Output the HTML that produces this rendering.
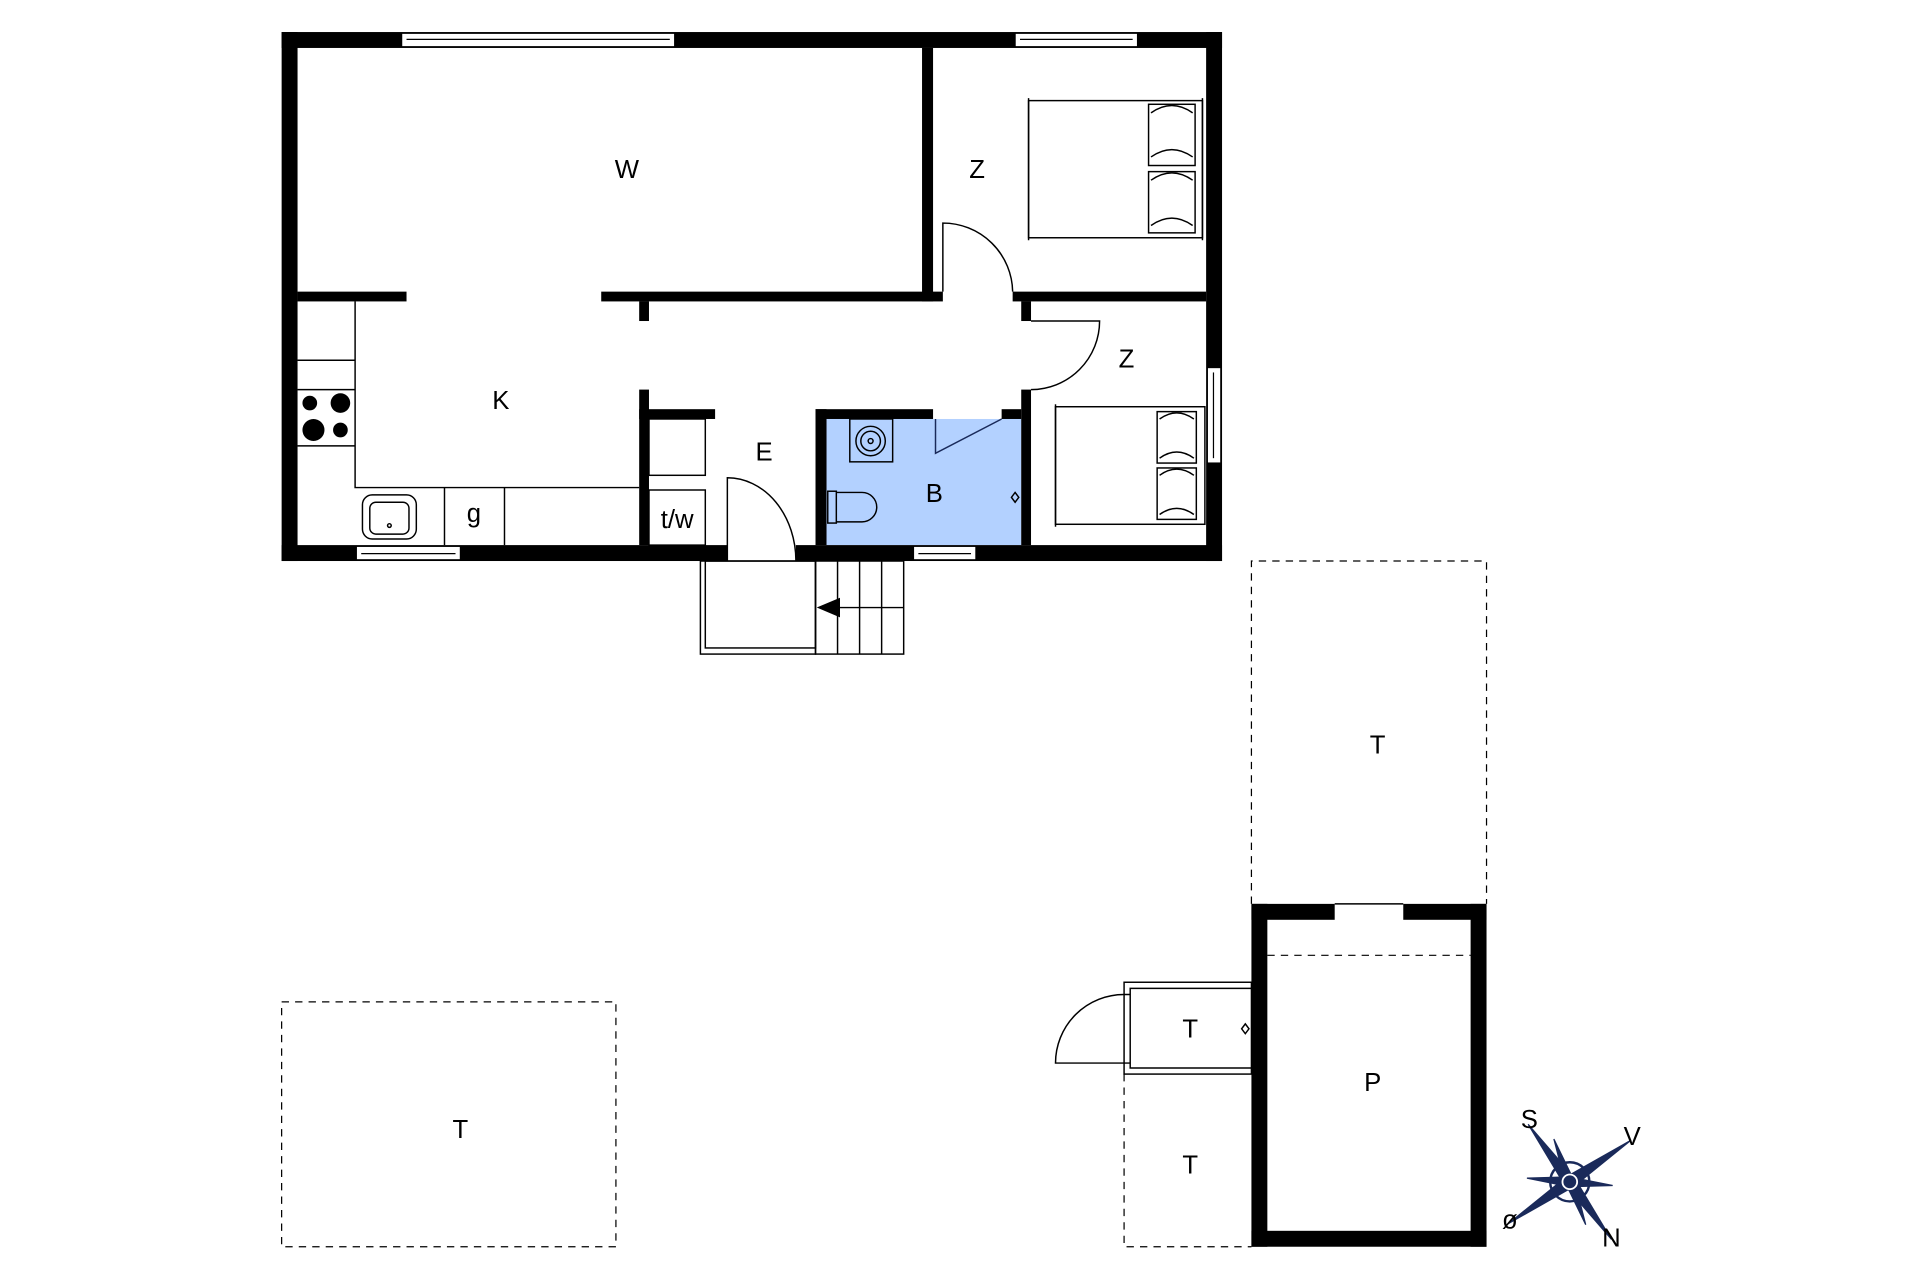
<!DOCTYPE html>
<html><head><meta charset="utf-8"><style>html,body{margin:0;padding:0;background:#fff}svg{display:block}text{font-family:"Liberation Sans",sans-serif;font-size:21px;fill:#000;text-anchor:middle}</style></head><body>
<svg width="1920" height="1280" viewBox="0 0 1568 1045" xmlns="http://www.w3.org/2000/svg">
<rect width="1568" height="1045" fill="#fff"/>
<!-- bathroom fill -->
<rect x="675" y="342" width="159" height="103" fill="#b3d1ff"/>
<g fill="#000">
<!-- outer walls -->
<rect x="230" y="26" width="768" height="13"/>
<rect x="230" y="26" width="13" height="432"/>
<rect x="985" y="26" width="13" height="432"/>
<rect x="230" y="445" width="364" height="13"/>
<rect x="650" y="445" width="348" height="13"/>
<!-- interior -->
<rect x="243" y="238" width="89" height="8"/>
<rect x="491" y="238" width="279" height="8"/>
<rect x="753" y="39" width="9" height="207"/>
<rect x="827" y="238" width="158" height="8"/>
<rect x="522" y="246" width="8" height="16"/>
<rect x="834" y="246" width="8" height="16"/>
<rect x="834" y="318" width="8" height="127"/>
<rect x="522" y="318" width="8" height="127"/>
<rect x="522" y="334" width="62" height="8"/>
<rect x="666" y="334" width="9" height="111"/>
<rect x="666" y="334" width="96" height="8"/>
<rect x="818" y="334" width="16" height="8"/>
<!-- P building -->
<rect x="1022" y="738" width="13" height="280"/>
<rect x="1201" y="738" width="13" height="280"/>
<rect x="1022" y="1005" width="192" height="13"/>
<rect x="1022" y="738" width="68" height="13"/>
<rect x="1146" y="738" width="68" height="13"/>
</g>
<!-- windows -->
<g fill="#fff" stroke="#000" stroke-width="1">
<rect x="328" y="27" width="223" height="11"/><line x1="332" y1="32" x2="547" y2="32"/>
<rect x="829" y="27" width="100" height="11"/><line x1="833" y1="32" x2="925" y2="32"/>
<rect x="291" y="446" width="85" height="11"/><line x1="295" y1="452" x2="372" y2="452"/>
<rect x="746" y="446" width="51" height="11"/><line x1="750" y1="452" x2="793" y2="452"/>
<rect x="986" y="300" width="11" height="78"/><line x1="991" y1="304" x2="991" y2="374"/>
</g>
<g fill="none" stroke="#000" stroke-width="1.2">
<!-- doors -->
<path d="M770 238 V182 A57 57 0 0 1 827 238"/>
<path d="M842 262 H898 A56 56 0 0 1 842 318"/>
<path d="M594 458 V390 A56 68 0 0 1 650 458"/>
<path d="M764 342 V370 L818 342" stroke="#1a2a5a"/>
<!-- kitchen -->
<path d="M290 246 V398 H522"/>
<line x1="243" y1="294" x2="290" y2="294"/>
<line x1="243" y1="318" x2="290" y2="318"/>
<line x1="243" y1="364" x2="290" y2="364"/>
<line x1="363" y1="398" x2="363" y2="445"/>
<line x1="412" y1="398" x2="412" y2="445"/>
<rect x="296" y="404" width="44" height="36" rx="8"/>
<rect x="302" y="410" width="32" height="26" rx="5"/>
<circle cx="318" cy="429" r="1.5"/>
<!-- closets -->
<rect x="530" y="342" width="46" height="46"/>
<rect x="530" y="400" width="46" height="45"/>
<!-- steps -->
<rect x="572" y="458" width="94" height="76"/>
<rect x="576" y="458" width="90" height="71"/>
<rect x="666" y="458" width="72" height="76"/>
<line x1="684" y1="458" x2="684" y2="534"/><line x1="702" y1="458" x2="702" y2="534"/><line x1="720" y1="458" x2="720" y2="534"/>
<line x1="684" y1="496" x2="738" y2="496"/>
<!-- beds -->
<rect x="840" y="82" width="142" height="112"/><line x1="840" y1="80" x2="840" y2="196"/><line x1="982" y1="80" x2="982" y2="196"/>
<rect x="938" y="85" width="38" height="50"/><rect x="938" y="140" width="38" height="50"/>
<path d="M940 92 Q957 80 974 92 M940 128 Q957 116 974 128 M940 147 Q957 135 974 147 M940 184 Q957 172 974 184"/>
<rect x="862" y="332" width="122" height="96"/><line x1="862" y1="330" x2="862" y2="430"/>
<rect x="945" y="336" width="32" height="42"/><rect x="945" y="382" width="32" height="42"/>
<path d="M947 342 Q961 332 975 342 M947 374 Q961 364 975 374 M947 388 Q961 378 975 388 M947 420 Q961 410 975 420"/>
<!-- bathroom fixtures -->
<rect x="694" y="342" width="35" height="35"/>
<circle cx="711" cy="360" r="12"/><circle cx="711" cy="360" r="8"/><circle cx="711" cy="360" r="2"/>
<rect x="676" y="401" width="7" height="26"/>
<path d="M683 402 H704 A12 12 0 0 1 704 426 H683"/>
<path d="M829 402 L832 406 L829 410 L826 406 Z"/>
<!-- small T -->
<rect x="918" y="802" width="104" height="75"/>
<path d="M1022 807 H923 V812 H918 M923 812 V868 H918 M923 868 V872 H1022"/>
<path d="M918 812 A56 56 0 0 0 862 868 H918"/>
<path d="M1017 836 L1020 840 L1017 844 L1014 840 Z"/>
<line x1="1090" y1="738" x2="1146" y2="738"/>
</g>
<!-- triangle step arrow -->
<path d="M667 496 L686 488 V504 Z" fill="#000"/>
<!-- stove -->
<g fill="#000"><circle cx="253" cy="329" r="6"/><circle cx="278" cy="329" r="8"/><circle cx="256" cy="351" r="9"/><circle cx="278" cy="351" r="6"/></g>
<!-- dashed -->
<g fill="none" stroke="#000" stroke-width="1" stroke-dasharray="6,5">
<path d="M1022 738 V458 H1214 V738"/>
<line x1="1035" y1="780" x2="1201" y2="780"/>
<path d="M918 877 V1018 H1022"/>
<rect x="230" y="818" width="273" height="200"/>
</g>
<!-- compass -->
<g transform="translate(1282,965)">
<circle r="16" fill="none" stroke="#1a2a5a" stroke-width="2"/>
<g fill="#1a2a5a" stroke="#1a2a5a" stroke-width="1">
<path d="M-34 -47 L4 -3 L-4 3 Z"/><path d="M34 47 L4 -3 L-4 3 Z"/>
<path d="M50 -34 L3 4 L-3 -4 Z"/><path d="M-50 34 L3 4 L-3 -4 Z"/>
<path d="M-13 -35 L4 0 L-4 0Z"/><path d="M13 35 L4 0 L-4 0Z"/><path d="M-35 -3 L0 4 L0 -4Z"/><path d="M35 3 L0 4 L0 -4Z"/>
</g>
<circle r="6" fill="#1a2a5a" stroke="#fff" stroke-width="1.5"/>
</g>
<g style="font-size:11px">
<text x="1249" y="921">S</text><text x="1333" y="935">V</text><text x="1233" y="1003">ø</text><text x="1316" y="1018">N</text>
</g>
<!-- labels -->
<text x="512" y="145">W</text>
<text x="798" y="145">Z</text>
<text x="920" y="300">Z</text>
<text x="409" y="334">K</text>
<text x="624" y="376">E</text>
<text x="763" y="410" fill="#1a2a5a">B</text>
<text x="387" y="426">g</text>
<text x="553" y="431">t/w</text>
<text x="1125" y="615">T</text>
<text x="972" y="847">T</text>
<text x="1121" y="891">P</text>
<text x="972" y="958">T</text>
<text x="376" y="929">T</text>
</svg>
</body></html>
